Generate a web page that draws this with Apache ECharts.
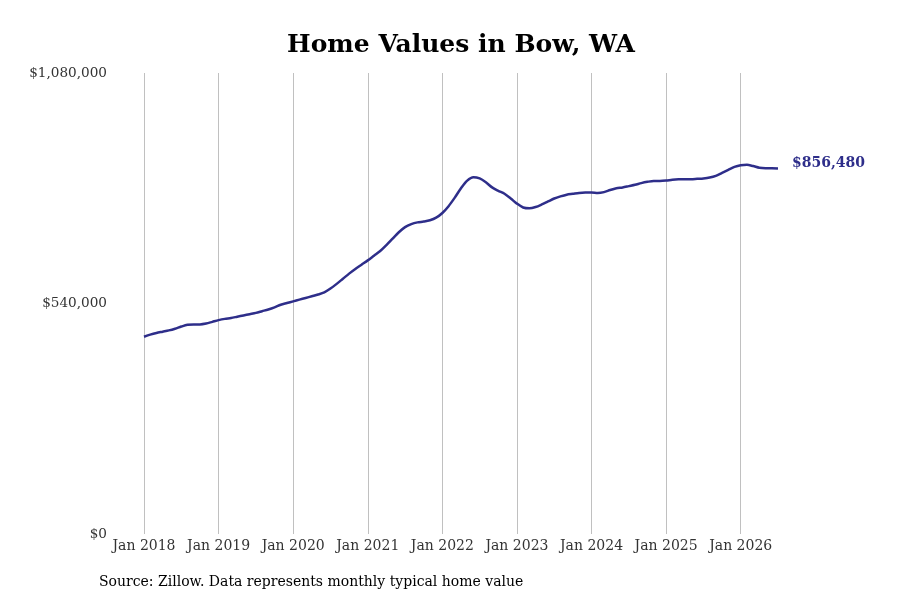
<!DOCTYPE html>
<html>
<head>
<meta charset="utf-8">
<script src="https://cdn.jsdelivr.net/npm/echarts@6/dist/echarts.min.js"></script>
<style>html,body{margin:0;padding:0;background:#fff}#c{width:900px;height:600px}</style>
</head>
<body>
<div id="c"></div>
<script>
const years = [2018, 2019, 2020, 2021, 2022, 2023, 2024, 2025, 2026];
const monthNames = ['Jan','Feb','Mar','Apr','May','Jun','Jul','Aug','Sep','Oct','Nov','Dec'];
const values2018 = [462000, 467000, 471000, 474000, 477000, 481000, 486000, 490000, 491000, 491000, 493000, 497000];
const values2019 = [501000, 504000, 506000, 509000, 512000, 515000, 518000, 522000, 526000, 531000, 537000, 541000];
const values2020 = [545000, 549000, 553000, 557000, 561000, 566000, 575000, 586000, 598000, 610000, 621000, 631000];
const values2021 = [641000, 652000, 663000, 677000, 692000, 707000, 719000, 726000, 730000, 732000, 735000, 741000];
const values2022 = [752000, 768000, 788000, 810000, 828000, 836000, 833000, 824000, 812000, 804000, 797000, 786000];
const values2023 = [774000, 765000, 763000, 766000, 772000, 779000, 786000, 791000, 795000, 797000, 799000, 800000];
const values2024 = [800000, 799000, 801000, 806000, 810000, 812000, 815000, 818000, 822000, 825000, 827000, 827000];
const values2025 = [828000, 830000, 831000, 831000, 831000, 832000, 833000, 835000, 839000, 846000, 853000, 860000];
const values2026 = [864000, 865000, 862000, 858000, 857000, 857000, 856480];
const yTicks = [0, 540000, 1080000];

const allValues = [].concat(values2018, values2019, values2020, values2021, values2022, values2023, values2024, values2025, values2026);
const categories = [];
years.forEach(y => monthNames.forEach(m => { categories.push(m + ' ' + y); }));
categories.length = allValues.length;

const FONT = '"DejaVu Serif", serif';
const LINE = '#2e2e8a';

function fmtMoney(v) { return '$' + Math.round(v).toLocaleString('en-US'); }

const chart = echarts.init(document.getElementById('c'));
chart.setOption({
  animation: false,
  backgroundColor: '#fff',
  title: {
    text: 'Home Values in Bow, WA',
    left: 456, top: 28, textAlign: 'center',
    textStyle: { fontFamily: FONT, fontWeight: 'bold', fontSize: 25, color: '#000' }
  },
  grid: { left: 144, right: 122, top: 73, bottom: 66, containLabel: false },
  xAxis: {
    type: 'category', data: categories, boundaryGap: false,
    axisLine: { show: false }, axisTick: { show: false },
    axisLabel: {
      interval: (i, v) => v.startsWith('Jan'),
      fontFamily: FONT, fontSize: 14, color: '#333', margin: 5
    },
    splitLine: { show: true, interval: (i, v) => v.startsWith('Jan'), lineStyle: { color: '#c0c0c0', width: 1 } }
  },
  yAxis: {
    type: 'value', min: yTicks[0], max: yTicks[yTicks.length - 1], interval: yTicks[1] - yTicks[0],
    axisLine: { show: false }, axisTick: { show: false }, splitLine: { show: false },
    axisLabel: { formatter: fmtMoney, fontFamily: FONT, fontSize: 13.6, color: '#333', margin: 37 }
  },
  series: [{
    type: 'line', data: allValues, smooth: 0.3, symbol: 'none',
    lineStyle: { color: LINE, width: 2.5 },
    endLabel: {
      show: true, formatter: p => fmtMoney(p.value), distance: 14, offset: [0, -5],
      fontFamily: FONT, fontWeight: 'bold', fontSize: 14, color: LINE
    }
  }],
  graphic: [{
    type: 'text', left: 99, top: 575,
    style: { text: 'Source: Zillow. Data represents monthly typical home value', fontFamily: FONT, fontSize: 14, fill: '#000' }
  }]
});
</script>
</body>
</html>
